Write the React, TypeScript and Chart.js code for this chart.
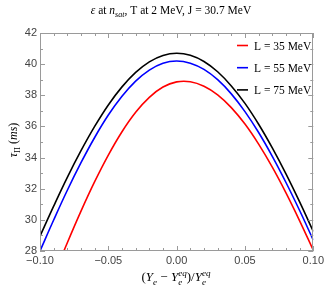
import React, { useEffect, useRef } from "react";
import { Chart, registerables } from "chart.js";

Chart.register(...registerables);

// ---- data ----
const xValues = [
  -0.1, -0.09, -0.08, -0.07, -0.06, -0.05, -0.04, -0.03, -0.02, -0.01, 0,
  0.01, 0.02, 0.03, 0.04, 0.05, 0.06, 0.07, 0.08, 0.09, 0.1,
];
const tauL35 = [
  24.2, 26.4, 28.53, 30.56, 32.45, 34.16, 35.66, 36.91, 37.87, 38.53, 38.86,
  38.87, 38.58, 38.03, 37.21, 36.15, 34.86, 33.38, 31.73, 29.94, 28.05,
];
const tauL55 = [
  28.0, 29.99, 31.9, 33.67, 35.29, 36.73, 37.94, 38.91, 39.62, 40.06, 40.2,
  40.06, 39.66, 39.0, 38.09, 36.95, 35.61, 34.08, 32.4, 30.6, 28.7,
];
const tauL75 = [
  28.95, 30.88, 32.73, 34.44, 36.0, 37.38, 38.54, 39.47, 40.15, 40.56, 40.7,
  40.57, 40.17, 39.51, 38.6, 37.48, 36.14, 34.62, 32.95, 31.15, 29.25,
];
const seriesLabels = ["L = 35 MeV", "L = 55 MeV", "L = 75 MeV"];
const seriesColors = ["#ff0000", "#0000ff", "#000000"];
const xTickStep = 0.05;
const yTickStep = 2;
const xMin = -0.1;
const xMax = 0.1;
const yMin = 28;
const yMax = 42;

const SERIF = "'Liberation Serif', 'Times New Roman', serif";
const SANS = "'Liberation Sans', Arial, sans-serif";

type Seg = { t?: string; it?: boolean; sub?: boolean; sup?: boolean; stack?: [string, string] };

function segFont(size: number, it?: boolean) {
  return `${it ? "italic " : ""}${size}px ${SERIF}`;
}

function segWidth(ctx: CanvasRenderingContext2D, s: Seg, size: number) {
  if (s.stack) {
    ctx.font = segFont(size * 0.7, true);
    return Math.max(ctx.measureText(s.stack[0]).width, ctx.measureText(s.stack[1]).width);
  }
  const sz = s.sub || s.sup ? size * 0.7 : size;
  ctx.font = segFont(sz, s.it);
  return ctx.measureText(s.t || "").width;
}

function drawRich(ctx: CanvasRenderingContext2D, segs: Seg[], cx: number, y: number, size: number) {
  const widths = segs.map((s) => segWidth(ctx, s, size));
  const total = widths.reduce((a, b) => a + b, 0);
  let x = cx - total / 2;
  ctx.textAlign = "left";
  ctx.textBaseline = "alphabetic";
  segs.forEach((s, i) => {
    if (s.stack) {
      ctx.font = segFont(size * 0.7, true);
      ctx.fillText(s.stack[0], x, y + size * 0.3);
      ctx.fillText(s.stack[1], x, y - size * 0.38);
    } else {
      const sz = s.sub || s.sup ? size * 0.7 : size;
      ctx.font = segFont(sz, s.it);
      const dy = s.sub ? size * 0.28 : s.sup ? -size * 0.38 : 0;
      ctx.fillText(s.t || "", x, y + dy);
    }
    x += widths[i];
  });
}

const decorPlugin = {
  id: "decor",
  afterDraw(chart: any) {
    const ctx: CanvasRenderingContext2D = chart.ctx;
    const { left, right, top, bottom } = chart.chartArea;
    const xs = chart.scales.x;
    const ys = chart.scales.y;
    ctx.save();
    // frame
    ctx.strokeStyle = "#9a9a9a";
    ctx.lineWidth = 1;
    ctx.strokeRect(Math.round(left) + 0.5, Math.round(top) + 0.5, Math.round(right - left) - 1, Math.round(bottom - top) - 1);
    // ticks (inward, all four sides)
    ctx.beginPath();
    for (let i = -10; i <= 10; i++) {
      const px = Math.round(xs.getPixelForValue(i / 100)) + 0.5;
      const len = i % 5 === 0 ? 5 : 3;
      ctx.moveTo(px, bottom);
      ctx.lineTo(px, bottom - len);
      ctx.moveTo(px, top);
      ctx.lineTo(px, top + len);
    }
    for (let v = yMin; v <= yMax; v += 1) {
      const py = Math.round(ys.getPixelForValue(v)) + 0.5;
      const len = v % 2 === 0 ? 5 : 3;
      ctx.moveTo(left, py);
      ctx.lineTo(left + len, py);
      ctx.moveTo(right, py);
      ctx.lineTo(right - len, py);
    }
    ctx.stroke();

    // legend
    chart.data.datasets.forEach((ds: any, i: number) => {
      const ly = 45.5 + 22.2 * i;
      ctx.strokeStyle = ds.borderColor;
      ctx.lineWidth = 1.6;
      ctx.beginPath();
      ctx.moveTo(237, ly);
      ctx.lineTo(248, ly);
      ctx.stroke();
      ctx.fillStyle = "#000";
      ctx.font = `11.5px ${SERIF}`;
      ctx.textAlign = "left";
      ctx.textBaseline = "alphabetic";
      ctx.fillText(ds.label, 254, ly + 4);
    });

    // title
    ctx.fillStyle = "#000";
    drawRich(
      ctx,
      [
        { t: "ε", it: true },
        { t: " at " },
        { t: "n", it: true },
        { t: "sat", it: true, sub: true },
        { t: ", T at 2 MeV, J = 30.7 MeV" },
      ],
      171,
      14,
      11.5
    );

    // x axis title
    drawRich(
      ctx,
      [
        { t: "(" },
        { t: "Y", it: true },
        { t: "e", it: true, sub: true },
        { t: " − " },
        { t: "Y", it: true },
        { stack: ["e", "eq"] },
        { t: ")/" },
        { t: "Y", it: true },
        { stack: ["e", "eq"] },
      ],
      176,
      281,
      13
    );

    // y axis title
    ctx.save();
    ctx.translate(17, 140);
    ctx.rotate(-Math.PI / 2);
    drawRich(
      ctx,
      [
        { t: "τ", it: true },
        { t: "Π", sub: true },
        { t: " (" },
        { t: "ms", it: true },
        { t: ")" },
      ],
      0,
      0,
      12
    );
    ctx.restore();
    ctx.restore();
  },
};

function fmtX(v: number) {
  if (Math.abs(v) < 1e-9) return "0.00";
  const s = Math.abs(v).toFixed(2);
  return v < 0 ? "\u2212" + s : s;
}

export default function App() {
  const ref = useRef<HTMLCanvasElement | null>(null);
  useEffect(() => {
    if (!ref.current) return;
    const mk = (ys: number[]) => xValues.map((x, i) => ({ x, y: ys[i] }));
    const allSeries = [tauL35, tauL55, tauL75];
    const chart = new Chart(ref.current, {
      type: "line",
      data: {
        datasets: allSeries.map((s, i) => ({
          label: seriesLabels[i],
          data: mk(s),
          borderColor: seriesColors[i],
          backgroundColor: seriesColors[i],
          borderWidth: 1.6,
          pointRadius: 0,
          tension: 0.4,
          fill: false,
        })),
      },
      options: {
        animation: false,
        responsive: false,
        devicePixelRatio: 1,
        layout: { padding: { top: 33, right: 13, left: 0, bottom: 0 } },
        plugins: {
          legend: { display: false },
          title: { display: false },
          tooltip: { enabled: false },
        },
        scales: {
          x: {
            type: "linear",
            min: xMin,
            max: xMax,
            grid: { display: false, drawTicks: false },
            border: { display: false },
            ticks: {
              stepSize: xTickStep,
              padding: 3,
              color: "#444",
              font: { family: SANS, size: 11 },
              maxRotation: 0,
              callback: (v: any) => fmtX(Number(v)),
            },
            afterFit: (scale: any) => {
              scale.height = 38;
            },
          },
          y: {
            type: "linear",
            min: yMin,
            max: yMax,
            grid: { display: false, drawTicks: false },
            border: { display: false },
            ticks: {
              stepSize: yTickStep,
              padding: 3,
              color: "#444",
              font: { family: SANS, size: 11 },
            },
            afterFit: (scale: any) => {
              scale.width = 40;
            },
          },
        },
      },
      plugins: [decorPlugin],
    });
    return () => chart.destroy();
  }, []);
  return (
    <div style={{ position: "fixed", left: 0, top: 0, width: 327, height: 289, background: "#fff" }}>
      <canvas ref={ref} width={327} height={289} style={{ width: 327, height: 289 }} />
    </div>
  );
}
